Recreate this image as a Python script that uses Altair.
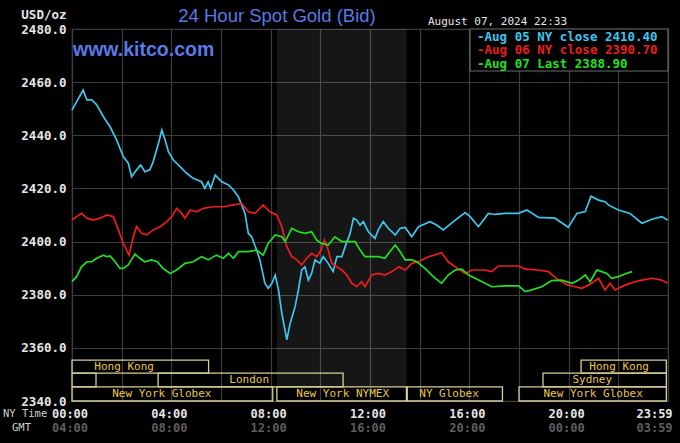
import altair as alt
import pandas as pd

# ---------------- data (minutes after 00:00 NY time, price USD/oz) ----------------
aug05_min = [0, 11, 27, 36, 48, 60, 76, 92, 108, 124, 136, 144, 156, 166, 176, 188, 196, 209, 217, 225,
             233, 245, 261, 277, 293, 313, 321, 329, 335, 346, 362, 378, 390, 402, 418, 426, 434, 446, 454,
             466, 474, 483, 491, 499, 507, 519, 527, 539, 547, 555, 563, 571, 579, 587, 599, 607, 619, 631,
             640, 652, 660, 672, 680, 688, 696, 704, 716, 732, 740, 752, 764, 781, 793, 805, 821, 837, 865,
             881, 897, 926, 950, 962, 982, 1006, 1022, 1046, 1079, 1099, 1127, 1167, 1199, 1220, 1240, 1254,
             1272, 1288, 1296, 1320, 1348, 1377, 1401, 1425, 1439]
aug05_val = [2449.5, 2452.6, 2457.0, 2453.3, 2453.3, 2451.4, 2447.0, 2443.2, 2438.2, 2432.0, 2429.5, 2424.4,
             2427.0, 2428.8, 2426.3, 2427.0, 2430.0, 2437.0, 2442.0, 2438.2, 2433.8, 2430.7, 2428.2, 2425.7,
             2423.8, 2422.5, 2420.0, 2422.5, 2420.0, 2425.0, 2422.5, 2421.3, 2419.4, 2416.9, 2410.6, 2403.1,
             2401.8, 2396.8, 2393.1, 2384.3, 2382.4, 2384.3, 2387.4, 2381.8, 2373.0, 2363.0, 2369.2, 2375.5,
             2381.8, 2389.3, 2390.5, 2385.5, 2388.0, 2393.1, 2391.8, 2394.3, 2391.8, 2388.7, 2394.3, 2394.3,
             2398.1, 2403.1, 2408.8, 2408.1, 2406.2, 2407.5, 2403.7, 2401.2, 2404.4, 2407.5, 2405.0, 2402.5,
             2405.0, 2405.3, 2401.8, 2405.6, 2407.5, 2406.2, 2404.4, 2408.1, 2410.9, 2409.4, 2405.6, 2410.6,
             2410.2, 2410.6, 2410.6, 2411.9, 2409.1, 2408.8, 2405.4, 2410.6, 2411.3, 2417.1, 2415.6, 2415.0,
             2413.8, 2411.9, 2410.6, 2406.9, 2408.4, 2409.4, 2408.1]

aug06_min = [0, 11, 23, 36, 51, 68, 84, 100, 112, 124, 138, 148, 156, 168, 181, 196, 213, 229, 241, 253,
             265, 273, 285, 301, 317, 341, 366, 390, 410, 426, 442, 462, 478, 495, 507, 519, 531, 543, 555,
             567, 579, 591, 602, 610, 619, 628, 640, 652, 664, 676, 688, 700, 708, 724, 740, 756, 773, 789,
             805, 821, 837, 861, 877, 893, 909, 926, 950, 966, 998, 1014, 1030, 1079, 1095, 1127, 1151, 1175,
             1199, 1216, 1232, 1256, 1272, 1288, 1300, 1312, 1336, 1360, 1377, 1401, 1425, 1439]
aug06_val = [2408.1, 2409.4, 2410.6, 2408.8, 2408.1, 2408.8, 2410.0, 2409.4, 2404.4, 2399.3, 2394.9, 2401.8,
             2405.6, 2403.1, 2402.5, 2404.4, 2405.6, 2407.5, 2409.4, 2412.5, 2410.6, 2408.8, 2411.9, 2411.2,
             2412.5, 2413.1, 2413.1, 2413.8, 2414.4, 2411.2, 2410.6, 2413.8, 2411.2, 2410.0, 2405.6, 2398.1,
             2394.3, 2393.1, 2391.2, 2393.7, 2395.6, 2394.3, 2396.8, 2400.6, 2396.8, 2391.8, 2390.5, 2389.3,
             2387.4, 2384.3, 2383.0, 2384.9, 2383.0, 2387.4, 2388.0, 2387.4, 2388.7, 2390.5, 2389.3, 2391.8,
             2392.4, 2394.3, 2395.0, 2395.8, 2392.4, 2390.5, 2388.0, 2389.3, 2389.3, 2388.7, 2390.8, 2390.8,
             2389.6, 2389.3, 2388.7, 2385.5, 2383.6, 2383.0, 2382.4, 2384.3, 2386.2, 2381.8, 2384.3, 2381.8,
             2383.6, 2384.9, 2385.5, 2386.2, 2385.5, 2384.3]

aug07_min = [0, 11, 23, 36, 48, 60, 76, 84, 92, 104, 116, 124, 136, 152, 164, 176, 192, 206, 220, 237,
             253, 273, 293, 313, 329, 349, 366, 378, 390, 402, 426, 446, 462, 474, 491, 507, 515, 531, 547,
             563, 579, 591, 603, 619, 635, 652, 668, 684, 696, 708, 724, 740, 756, 768, 781, 793, 805, 821,
             833, 853, 873, 893, 909, 926, 942, 958, 974, 998, 1014, 1046, 1079, 1095, 1111, 1135, 1159, 1183,
             1208, 1224, 1240, 1252, 1268, 1280, 1292, 1304, 1320, 1336, 1353]
aug07_val = [2384.9, 2386.8, 2390.5, 2392.4, 2392.4, 2393.7, 2394.9, 2394.3, 2394.6, 2392.4, 2389.9, 2389.9,
             2391.2, 2395.3, 2393.7, 2392.4, 2393.1, 2392.4, 2389.9, 2388.0, 2389.3, 2391.8, 2392.4, 2394.3,
             2393.1, 2394.9, 2393.7, 2395.6, 2393.7, 2396.2, 2396.2, 2396.8, 2394.9, 2399.3, 2402.5, 2401.8,
             2400.0, 2405.0, 2403.7, 2403.1, 2403.7, 2400.6, 2399.3, 2398.7, 2401.8, 2400.0, 2400.0, 2400.0,
             2396.8, 2394.3, 2394.3, 2394.3, 2393.7, 2396.2, 2398.7, 2396.2, 2393.1, 2393.1, 2392.4, 2389.9,
             2386.8, 2384.3, 2387.4, 2389.3, 2389.6, 2387.4, 2386.2, 2384.3, 2383.0, 2383.3, 2383.3, 2381.2,
             2381.8, 2383.0, 2385.3, 2385.5, 2384.3, 2385.5, 2387.4, 2384.9, 2389.3, 2388.7, 2388.0, 2386.2,
             2386.8, 2387.8, 2388.7]

series_names = ["Aug 05", "Aug 06", "Aug 07"]
series_colors = ["#3ec6ee", "#ee1c1c", "#22e022"]
legend_labels = ["-Aug 05 NY close 2410.40", "-Aug 06 NY close 2390.70", "-Aug 07 Last 2388.90"]

# market sessions: label, start/end minute, row (0 top), label centre minute
sess_label = ["Hong Kong", "", "London", "New York Globex", "New York NYMEX", "NY Globex",
              "New York Globex", "Sydney", "Hong Kong"]
sess_start = [0, 0, 208, 0, 495, 810, 1080, 1138, 1230]
sess_end = [330, 58, 655, 485, 808, 1040, 1436, 1436, 1436]
sess_row = [0, 1, 1, 2, 2, 2, 2, 1, 0]
sess_text_at = [126, 29, 428, 217, 654, 911, 1259, 1257, 1322]

nymex_start, nymex_end = 495, 808

ny_ticks = [0, 240, 480, 720, 960, 1200]
ny_labels = ["00:00", "04:00", "08:00", "12:00", "16:00", "20:00"]
gmt_labels = ["04:00", "08:00", "12:00", "16:00", "20:00", "00:00"]
last_tick, last_ny, last_gmt = 1439, "23:59", "03:59"

y_ticks = [2340, 2360, 2380, 2400, 2420, 2440, 2460, 2480]

# ---------------- build ----------------
W, H = 596, 372
MONO = "DejaVu Sans Mono"
GRID = "#3d3d3d"
BLUE = "#5a7ae6"
GOLD = "#e8c64a"

xs = alt.Scale(domain=[0, 1440], nice=False, zero=False)
ys = alt.Scale(domain=[2340, 2480], nice=False, zero=False)

XA = alt.Axis(values=list(range(0, 1441, 120)), labels=False, ticks=False, domain=False,
              grid=True, gridColor=GRID, gridWidth=1.2, title=None)
YA = alt.Axis(values=y_ticks, format=".1f", ticks=False, domain=False, grid=True,
              gridColor=GRID, gridWidth=1.2, labelFont=MONO, labelFontSize=12.5,
              labelFontWeight="bold", labelColor="#e6e6e6", labelPadding=6,
              labelBaseline="middle",
              title="USD/oz", titleAngle=0, titleX=-6, titleY=-15, titleAlign="right",
              titleBaseline="middle", titleFont=MONO, titleFontSize=12.5,
              titleFontWeight="bold", titleColor="#e6e6e6")

lines_df = pd.concat([
    pd.DataFrame({"t": aug05_min, "v": aug05_val, "s": series_names[0]}),
    pd.DataFrame({"t": aug06_min, "v": aug06_val, "s": series_names[1]}),
    pd.DataFrame({"t": aug07_min, "v": aug07_val, "s": series_names[2]}),
], ignore_index=True)

row_top = [2355.4, 2350.5, 2345.3]
row_bot = [2350.5, 2345.3, 2340.0]
sess_df = pd.DataFrame({
    "label": sess_label, "t0": sess_start, "t1": sess_end,
    "y0": [row_bot[r] for r in sess_row], "y1": [row_top[r] for r in sess_row],
    "ym": [(row_bot[r] + row_top[r]) / 2 for r in sess_row], "tx": sess_text_at,
})

band_df = pd.DataFrame({"t0": [nymex_start], "t1": [nymex_end], "y0": [row_top[2]], "y1": [2480]})

band = alt.Chart(band_df).mark_rect(fill="#ffffff", opacity=0.085).encode(
    x=alt.X("t0:Q", scale=xs, axis=XA), x2="t1:Q",
    y=alt.Y("y0:Q", scale=ys, axis=YA), y2="y1:Q")

lines = alt.Chart(lines_df).mark_line(strokeWidth=1.7, interpolate="linear").encode(
    x=alt.X("t:Q", scale=xs, axis=XA),
    y=alt.Y("v:Q", scale=ys, axis=YA),
    color=alt.Color("s:N", scale=alt.Scale(domain=series_names, range=series_colors), legend=None),
    detail="s:N")

sess_box = alt.Chart(sess_df).mark_rect(fill="#000000", fillOpacity=0, stroke="#d6cf98", strokeWidth=1.3).encode(
    x=alt.X("t0:Q", scale=xs, axis=XA), x2="t1:Q",
    y=alt.Y("y0:Q", scale=ys, axis=YA), y2="y1:Q")

sess_txt = alt.Chart(sess_df).mark_text(font=MONO, fontSize=11, color=GOLD, baseline="middle",
                                        align="center").encode(
    x=alt.X("tx:Q", scale=xs, axis=XA), y=alt.Y("ym:Q", scale=ys, axis=YA), text="label:N")

tick_df = pd.DataFrame({"t": ny_ticks, "ny": ny_labels, "gmt": gmt_labels})
last_df = pd.DataFrame({"t": [last_tick], "ny": [last_ny], "gmt": [last_gmt]})


def tick_text(df, field, color, ypix, align, dx):
    return alt.Chart(df).mark_text(font=MONO, fontSize=12, fontWeight="bold", color=color,
                                   baseline="middle", align=align, dx=dx).encode(
        x=alt.X("t:Q", scale=xs, axis=XA), y=alt.value(ypix), text=f"{field}:N")


ticks = (tick_text(tick_df, "ny", "#e6e6e6", H + 13, "center", -2)
         + tick_text(tick_df, "gmt", "#5e5e5e", H + 27, "center", -2)
         + tick_text(last_df, "ny", "#e6e6e6", H + 13, "right", 5)
         + tick_text(last_df, "gmt", "#5e5e5e", H + 27, "right", 5))

one = pd.DataFrame({"k": [0]})


def label(text, x, y, **kw):
    return alt.Chart(one).mark_text(text=text, **kw).encode(x=alt.value(x), y=alt.value(y))


side = (label("NY Time", -69, H + 13, font=MONO, fontSize=10.5, color="#d0d0d0", align="left",
              baseline="middle")
        + label("GMT", -60, H + 27, font=MONO, fontSize=10.5, color="#d0d0d0", align="left",
                baseline="middle"))

title = label("24 Hour Spot Gold (Bid)", 205, -13, font="Liberation Sans",
              fontSize=18.5, color=BLUE, align="center", baseline="middle")
kitco = label("www.kitco.com", 1, 21, font="Liberation Sans", fontSize=19.5, fontWeight="bold",
              color=BLUE, align="left", baseline="middle")
stamp = label("August 07, 2024 22:33", 356, -7, font=MONO, fontSize=11, color="#e6e6e6",
              align="left", baseline="middle")

legend_box = alt.Chart(one).mark_rect(fill="#000000", stroke="#6a6a6a", strokeWidth=1.2).encode(
    x=alt.value(398), x2=alt.value(596), y=alt.value(0), y2=alt.value(42))
legend_txt = [label(legend_labels[i], 405, 7.5 + 13.5 * i, font=MONO, fontSize=12.5, fontWeight="bold",
                    color=series_colors[i], align="left", baseline="middle") for i in range(3)]

chart = alt.layer(band, lines, sess_box, sess_txt, ticks, side, title, kitco, stamp, legend_box,
                  *legend_txt).properties(
    width=W, height=H,
    autosize=alt.AutoSizeParams(type="none"),
    padding={"left": 72, "top": 29, "right": 12, "bottom": 42},
    background="#000000",
).configure_view(stroke=GRID, strokeWidth=1.2)

chart.save("out.html", embed_options={"renderer": "svg", "actions": False})
